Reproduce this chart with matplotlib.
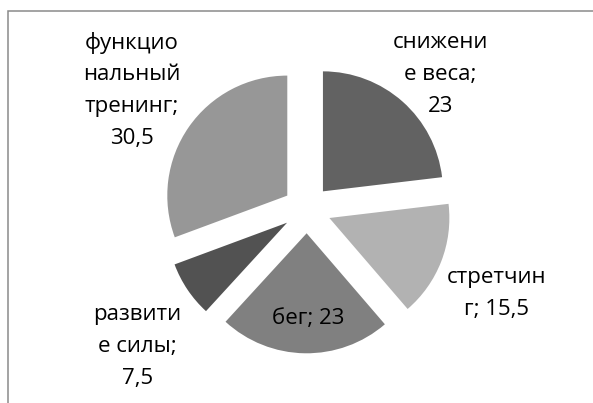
import matplotlib
matplotlib.use("Agg")
import matplotlib.pyplot as plt
from matplotlib.patches import Rectangle

# data
categories = ["снижение веса", "стретчинг", "бег", "развитие силы", "функциональный тренинг"]
values = [23, 15.5, 23, 7.5, 30.5]
colors = ["#626262", "#b2b2b2", "#808080", "#525252", "#979797"]
# labels as wrapped in the original (one entry per line)
label_lines = [
    ["снижени", "е веса;", "23"],
    ["стретчин", "г; 15,5"],
    ["бег; 23"],
    ["развити", "е силы;", "7,5"],
    ["функцио", "нальный", "тренинг;", "30,5"],
]

plt.rcParams["font.family"] = ["Open Sans", "DejaVu Sans"]

W, H = 593, 403
fig = plt.figure(figsize=(W / 100, H / 100), dpi=100)
ax = fig.add_axes([0, 0, 1, 1])

#pie in pixel units: centre, radius, explode distance
cx, cy, R, d = 307, H - 209.3, 120, 24
ax.pie(values, colors=colors, startangle=90, counterclock=False,
       center=(cx, cy), radius=R, explode=[d] * len(values),
       wedgeprops=dict(linewidth=0), frame=True)
ax.set_xlim(0, W)
ax.set_ylim(0, H)
ax.set_aspect("equal")
ax.axis("off")

# label placement: centre x and first baseline (pixels from top)
label_pos = [(440.5, 48), (497, 283), (308, 324), (137.5, 320), (132, 48.5)]
line_step = 31.8
for lines, (lx, ly) in zip(label_lines, label_pos):
    for i, s in enumerate(lines):
        ax.text(lx, H - (ly + i * line_step), s, ha="center", va="baseline",
                fontsize=16, color="black")

# outer chart frame (cropped at right and bottom)
ax.add_patch(Rectangle((8, -20), 620, H - 11 + 20, fill=False,
                       edgecolor="#8a8a8a", linewidth=1.1, clip_on=False))

fig.savefig("out.png", dpi=100)
